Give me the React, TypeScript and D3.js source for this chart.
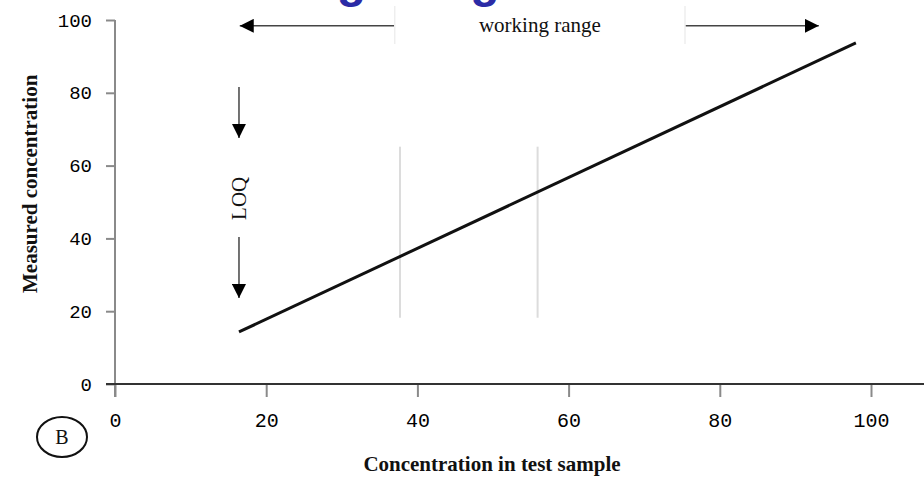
import React, { useEffect, useRef } from 'react';
import * as d3 from 'd3';

// axis ticks
const xTicks = [0, 20, 40, 60, 80, 100];
const yTicks = [0, 20, 40, 60, 80, 100];

// calibration line (concentration in sample -> measured)
const lineX = [16.4, 98];
const lineY = [14.3, 93.7];

// light reference lines inside the plot
const refX = [37.7, 55.9];
const refY = [18.2, 65.2];

// working range arrow (x ends, separators, height)
const rangeEnds = [16.5, 93.1];
const rangeSeps = [37.0, 75.4];
const rangeY = 98.4;

// LOQ arrows (x, then [start, tip] for each arrow)
const loqX = 16.4;
const loqArrows = [[81.6, 67.6], [40.4, 23.6]];
const loqTextY = 51;

const App = () => {
  const svgRef = useRef<SVGSVGElement>(null);

  useEffect(() => {
    document.body.style.margin = '0';
    const width = 924;
    const height = 479;

    d3.select(svgRef.current).selectAll('*').remove();
    const svg = d3.select(svgRef.current)
      .attr('width', width)
      .attr('height', height)
      .style('display', 'block')
      .style('background', '#fff');

    const x = d3.scaleLinear().domain([0, 100]).range([115, 871]);
    const y = d3.scaleLinear().domain([0, 100]).range([384, 20]);

    const serif = '"Liberation Serif", "Times New Roman", serif';
    const mono = '"Liberation Mono", "Courier New", monospace';

    // slide title above the chart, mostly cut off by the top edge
    svg.append('text')
      .attr('x', 175)
      .attr('y', -3)
      .attr('fill', '#2b2ba6')
      .style('font-family', '"Liberation Sans", Arial, sans-serif')
      .style('font-weight', 'bold')
      .style('font-size', '48px')
      .text('Working Range');

    // arrowhead marker
    svg.append('defs').append('marker')
      .attr('id', 'head')
      .attr('viewBox', '0 0 10 10')
      .attr('refX', 10)
      .attr('refY', 5)
      .attr('markerWidth', 14)
      .attr('markerHeight', 14)
      .attr('markerUnits', 'userSpaceOnUse')
      .attr('orient', 'auto')
      .append('path')
      .attr('d', 'M0,0 L10,5 L0,10 Z')
      .attr('fill', '#000');

    // reference lines
    svg.selectAll('.ref')
      .data(refX)
      .enter().append('line')
      .attr('class', 'ref')
      .attr('x1', d => x(d))
      .attr('x2', d => x(d))
      .attr('y1', y(refY[0]))
      .attr('y2', y(refY[1]))
      .attr('stroke', '#dcdcdc')
      .attr('stroke-width', 2);

    // y axis
    const yAxis = svg.append('g')
      .attr('transform', `translate(${x(0)},0)`)
      .call(d3.axisLeft(y).tickValues(yTicks).tickSize(9).tickPadding(14).tickFormat(d3.format('d')));
    yAxis.select('.domain').remove();
    yAxis.append('line')
      .attr('x1', 0).attr('x2', 0)
      .attr('y1', y(100)).attr('y2', y(0) + 13)
      .attr('stroke', '#8a8a8a')
      .attr('stroke-width', 2);
    yAxis.selectAll('.tick line').attr('stroke', '#8a8a8a').attr('stroke-width', 2);
    yAxis.selectAll('.tick text')
      .attr('fill', '#000')
      .style('font-family', mono)
      .style('font-size', '19px');

    // x axis
    const xAxis = svg.append('g')
      .attr('transform', `translate(0,${y(0)})`)
      .call(d3.axisBottom(x).tickValues(xTicks).tickSize(13).tickPadding(16).tickFormat(d3.format('d')));
    xAxis.select('.domain').remove();
    xAxis.append('line')
      .attr('x1', x(0) - 9).attr('x2', width)
      .attr('y1', 0).attr('y2', 0)
      .attr('stroke', '#333')
      .attr('stroke-width', 2);
    xAxis.selectAll('.tick line').attr('stroke', '#8a8a8a').attr('stroke-width', 2);
    xAxis.selectAll('.tick text')
      .attr('fill', '#000')
      .style('font-family', mono)
      .style('font-size', '20px');

    // calibration line
    svg.append('path')
      .datum(lineX.map((d, i) => [d, lineY[i]]))
      .attr('fill', 'none')
      .attr('stroke', '#111')
      .attr('stroke-width', 3)
      .attr('d', d3.line<number[]>().x(d => x(d[0])).y(d => y(d[1])));

    // working range arrows
    const wr = svg.append('g');
    wr.append('line')
      .attr('x1', x(rangeSeps[0])).attr('x2', x(rangeEnds[0]))
      .attr('y1', y(rangeY)).attr('y2', y(rangeY))
      .attr('stroke', '#444').attr('stroke-width', 1.5)
      .attr('marker-end', 'url(#head)');
    wr.append('line')
      .attr('x1', x(rangeSeps[1])).attr('x2', x(rangeEnds[1]))
      .attr('y1', y(rangeY)).attr('y2', y(rangeY))
      .attr('stroke', '#444').attr('stroke-width', 1.5)
      .attr('marker-end', 'url(#head)');
    wr.selectAll('.sep')
      .data(rangeSeps)
      .enter().append('line')
      .attr('class', 'sep')
      .attr('x1', d => x(d)).attr('x2', d => x(d))
      .attr('y1', 6).attr('y2', 44)
      .attr('stroke', '#eeeeee').attr('stroke-width', 1.5);
    wr.append('text')
      .attr('x', (x(rangeSeps[0]) + x(rangeSeps[1])) / 2)
      .attr('y', y(rangeY) + 6)
      .attr('text-anchor', 'middle')
      .attr('fill', '#111')
      .style('font-family', serif)
      .style('font-size', '21px')
      .text('working range');

    // LOQ arrows
    svg.selectAll('.loq')
      .data(loqArrows)
      .enter().append('line')
      .attr('class', 'loq')
      .attr('x1', x(loqX)).attr('x2', x(loqX))
      .attr('y1', d => y(d[0])).attr('y2', d => y(d[1]))
      .attr('stroke', '#444').attr('stroke-width', 1.5)
      .attr('marker-end', 'url(#head)');
    svg.append('text')
      .attr('transform', `translate(${x(loqX) + 7},${y(loqTextY)}) rotate(-90)`)
      .attr('text-anchor', 'middle')
      .attr('fill', '#111')
      .style('font-family', serif)
      .style('font-size', '21px')
      .text('LOQ');

    // axis titles
    svg.append('text')
      .attr('transform', `translate(37,${y(55)}) rotate(-90)`)
      .attr('text-anchor', 'middle')
      .attr('fill', '#111')
      .style('font-family', serif)
      .style('font-weight', 'bold')
      .style('font-size', '21px')
      .text('Measured concentration');
    svg.append('text')
      .attr('x', 492)
      .attr('y', 471)
      .attr('text-anchor', 'middle')
      .attr('fill', '#111')
      .style('font-family', serif)
      .style('font-weight', 'bold')
      .style('font-size', '21px')
      .text('Concentration in test sample');

    // panel label
    svg.append('ellipse')
      .attr('cx', 62).attr('cy', 437)
      .attr('rx', 25).attr('ry', 20)
      .attr('fill', 'none')
      .attr('stroke', '#111')
      .attr('stroke-width', 2);
    svg.append('text')
      .attr('x', 62).attr('y', 444)
      .attr('text-anchor', 'middle')
      .attr('fill', '#111')
      .style('font-family', serif)
      .style('font-size', '20px')
      .text('B');
  }, []);

  return <svg ref={svgRef}></svg>;
};

export default App;
